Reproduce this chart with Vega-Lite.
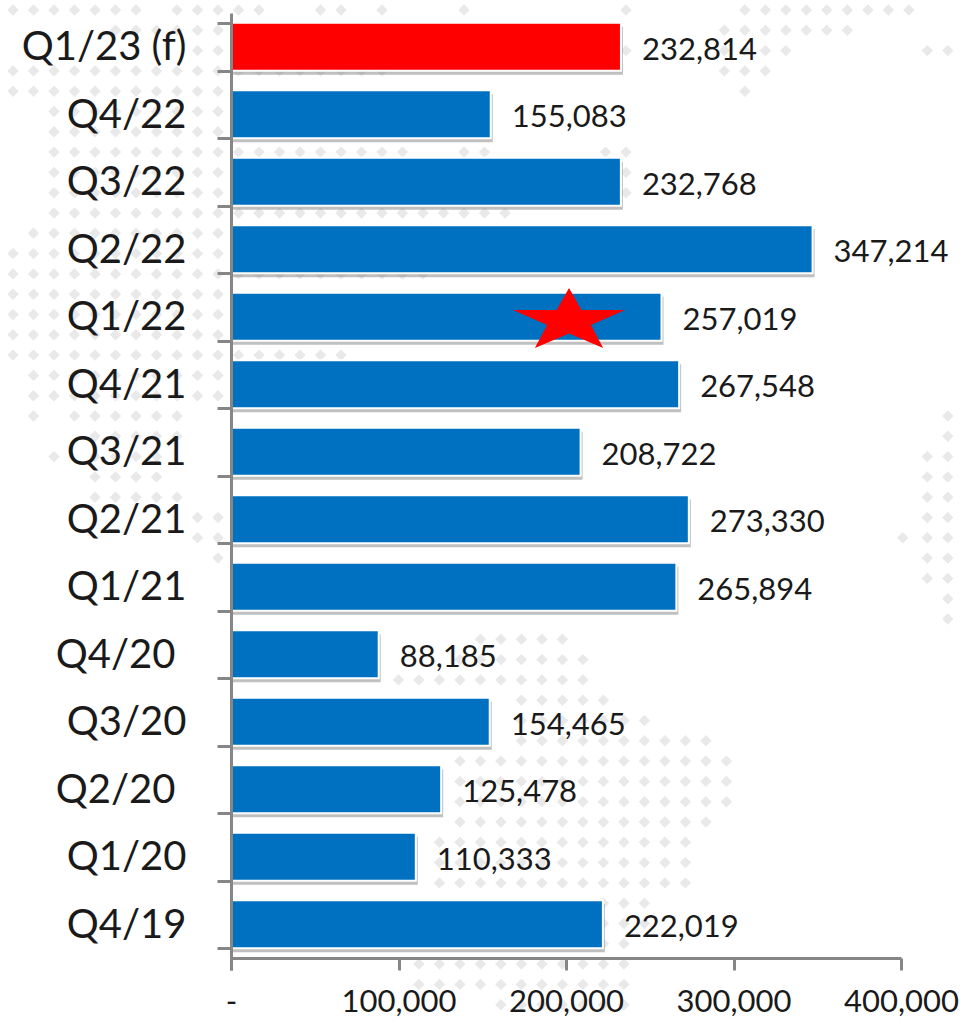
{
"$schema":"https://vega.github.io/schema/vega-lite/v6.json",
"width":670,"height":945,
"autosize":{"type":"none"},
"padding":{"left":231,"top":13,"right":62,"bottom":63},
"background":"white",
"config":{"view":{"stroke":null},"axis":{"tickBand":"extent"}},
"datasets":{"bars":[
{"period":"Q1/23 (f)","units":232814,"kind":"forecast"},
{"period":"Q4/22","units":155083,"kind":"actual"},
{"period":"Q3/22","units":232768,"kind":"actual"},
{"period":"Q2/22","units":347214,"kind":"actual"},
{"period":"Q1/22","units":257019,"kind":"actual"},
{"period":"Q4/21","units":267548,"kind":"actual"},
{"period":"Q3/21","units":208722,"kind":"actual"},
{"period":"Q2/21","units":273330,"kind":"actual"},
{"period":"Q1/21","units":265894,"kind":"actual"},
{"period":"Q4/20","units":88185,"kind":"actual"},
{"period":"Q3/20","units":154465,"kind":"actual"},
{"period":"Q2/20","units":125478,"kind":"actual"},
{"period":"Q1/20","units":110333,"kind":"actual"},
{"period":"Q4/19","units":222019,"kind":"actual"}
],"star":[{"period":"Q1/22","units":201800}],
"dots":[
{"c":0,"r":0},{"c":1,"r":0},{"c":2,"r":0},{"c":3,"r":0},{"c":4,"r":0},{"c":5,"r":0},{"c":6,"r":0},{"c":8,"r":0},{"c":9,"r":0},{"c":10,"r":0},{"c":11,"r":0},{"c":12,"r":0},{"c":15,"r":0},{"c":16,"r":0},{"c":18,"r":0},{"c":22,"r":0},
{"c":5,"r":1},{"c":6,"r":1},{"c":7,"r":1},{"c":8,"r":1},{"c":9,"r":1},{"c":10,"r":1},
{"c":9,"r":2},{"c":10,"r":2},
{"c":0,"r":3},{"c":1,"r":3},{"c":2,"r":3},{"c":3,"r":3},{"c":4,"r":3},{"c":5,"r":3},{"c":6,"r":3},{"c":7,"r":3},{"c":8,"r":3},{"c":9,"r":3},{"c":10,"r":3},
{"c":0,"r":4},{"c":1,"r":4},{"c":2,"r":4},{"c":3,"r":4},{"c":4,"r":4},{"c":5,"r":4},{"c":6,"r":4},{"c":7,"r":4},{"c":8,"r":4},{"c":9,"r":4},{"c":10,"r":4},
{"c":2,"r":5},{"c":3,"r":5},{"c":4,"r":5},{"c":5,"r":5},{"c":6,"r":5},{"c":7,"r":5},{"c":8,"r":5},{"c":9,"r":5},{"c":10,"r":5},
{"c":2,"r":6},{"c":3,"r":6},{"c":4,"r":6},{"c":5,"r":6},{"c":6,"r":6},{"c":7,"r":6},{"c":8,"r":6},{"c":9,"r":6},{"c":10,"r":6},
{"c":2,"r":7},{"c":3,"r":7},{"c":4,"r":7},{"c":5,"r":7},{"c":6,"r":7},{"c":7,"r":7},{"c":8,"r":7},{"c":9,"r":7},{"c":10,"r":7},
{"c":2,"r":8},{"c":3,"r":8},{"c":4,"r":8},{"c":5,"r":8},{"c":6,"r":8},{"c":7,"r":8},{"c":8,"r":8},{"c":9,"r":8},{"c":10,"r":8},
{"c":2,"r":9},{"c":3,"r":9},{"c":4,"r":9},{"c":5,"r":9},{"c":6,"r":9},{"c":7,"r":9},{"c":8,"r":9},{"c":9,"r":9},{"c":10,"r":9},
{"c":2,"r":10},{"c":3,"r":10},{"c":4,"r":10},{"c":5,"r":10},{"c":6,"r":10},{"c":7,"r":10},{"c":8,"r":10},{"c":9,"r":10},{"c":10,"r":10},
{"c":1,"r":11},{"c":2,"r":11},{"c":3,"r":11},{"c":4,"r":11},{"c":5,"r":11},{"c":6,"r":11},{"c":7,"r":11},{"c":8,"r":11},{"c":9,"r":11},{"c":10,"r":11},
{"c":0,"r":12},{"c":1,"r":12},{"c":2,"r":12},{"c":3,"r":12},{"c":4,"r":12},{"c":5,"r":12},{"c":6,"r":12},{"c":7,"r":12},{"c":8,"r":12},{"c":9,"r":12},{"c":10,"r":12},
{"c":0,"r":13},{"c":1,"r":13},{"c":2,"r":13},{"c":3,"r":13},{"c":4,"r":13},{"c":5,"r":13},{"c":6,"r":13},{"c":7,"r":13},{"c":8,"r":13},{"c":9,"r":13},{"c":10,"r":13},
{"c":0,"r":14},{"c":1,"r":14},{"c":2,"r":14},{"c":3,"r":14},{"c":4,"r":14},{"c":5,"r":14},{"c":6,"r":14},{"c":7,"r":14},{"c":8,"r":14},{"c":9,"r":14},{"c":10,"r":14},
{"c":0,"r":15},{"c":1,"r":15},{"c":2,"r":15},{"c":3,"r":15},{"c":4,"r":15},{"c":5,"r":15},{"c":6,"r":15},{"c":7,"r":15},{"c":8,"r":15},{"c":9,"r":15},{"c":10,"r":15},
{"c":0,"r":16},{"c":1,"r":16},{"c":2,"r":16},{"c":3,"r":16},{"c":4,"r":16},{"c":5,"r":16},{"c":6,"r":16},{"c":7,"r":16},{"c":8,"r":16},{"c":9,"r":16},{"c":10,"r":16},
{"c":0,"r":17},{"c":1,"r":17},{"c":2,"r":17},{"c":3,"r":17},{"c":4,"r":17},{"c":5,"r":17},{"c":6,"r":17},{"c":7,"r":17},{"c":8,"r":17},{"c":9,"r":17},{"c":10,"r":17},
{"c":1,"r":18},{"c":2,"r":18},{"c":3,"r":18},{"c":4,"r":18},{"c":5,"r":18},{"c":6,"r":18},{"c":7,"r":18},{"c":8,"r":18},{"c":9,"r":18},{"c":10,"r":18},
{"c":1,"r":19},{"c":2,"r":19},{"c":3,"r":19},{"c":4,"r":19},{"c":5,"r":19},{"c":6,"r":19},{"c":7,"r":19},{"c":8,"r":19},{"c":9,"r":19},{"c":10,"r":19},
{"c":1,"r":20},{"c":3,"r":20},{"c":4,"r":20},{"c":5,"r":20},{"c":6,"r":20},{"c":7,"r":20},{"c":8,"r":20},
{"c":4,"r":21},{"c":5,"r":21},{"c":6,"r":21},{"c":7,"r":21},{"c":8,"r":21},
{"c":2,"r":22},{"c":4,"r":22},{"c":5,"r":22},{"c":6,"r":22},{"c":7,"r":22},
{"c":4,"r":23},{"c":5,"r":23},{"c":6,"r":23},{"c":7,"r":23},
{"c":4,"r":24},{"c":5,"r":24},{"c":6,"r":24},{"c":7,"r":24},{"c":8,"r":24},
{"c":9,"r":25},{"c":10,"r":25},{"c":9,"r":26},{"c":10,"r":26},{"c":10,"r":27},
{"c":11,"r":3},{"c":12,"r":3},{"c":13,"r":3},{"c":14,"r":3},{"c":15,"r":3},{"c":16,"r":3},{"c":17,"r":3},{"c":18,"r":3},
{"c":11,"r":7},{"c":12,"r":7},{"c":13,"r":7},{"c":14,"r":7},{"c":15,"r":7},{"c":16,"r":7},{"c":17,"r":7},{"c":18,"r":7},{"c":19,"r":7},{"c":22,"r":7},{"c":23,"r":7},
{"c":11,"r":10},{"c":12,"r":10},{"c":13,"r":10},{"c":14,"r":10},{"c":15,"r":10},{"c":16,"r":10},{"c":17,"r":10},{"c":18,"r":10},{"c":19,"r":10},{"c":20,"r":10},{"c":21,"r":10},{"c":22,"r":10},{"c":23,"r":10},{"c":24,"r":10},
{"c":11,"r":13},{"c":12,"r":13},{"c":13,"r":13},{"c":14,"r":13},{"c":15,"r":13},{"c":16,"r":13},{"c":17,"r":13},{"c":18,"r":13},{"c":19,"r":13},{"c":20,"r":13},
{"c":11,"r":17},{"c":12,"r":17},{"c":13,"r":17},{"c":14,"r":17},{"c":15,"r":17},{"c":16,"r":17},
{"c":29.9,"r":0},{"c":29.9,"r":2},{"c":28.9,"r":7},{"c":29.9,"r":7},{"c":29.9,"r":8},{"c":29.9,"r":9},
{"c":35.7,"r":0},{"c":36.7,"r":0},{"c":37.7,"r":0},{"c":38.7,"r":0},{"c":39.7,"r":0},{"c":40.7,"r":0},{"c":41.7,"r":0},{"c":42.7,"r":0},{"c":43.7,"r":0},
{"c":34.7,"r":1},{"c":35.7,"r":1},{"c":36.7,"r":1},{"c":37.7,"r":1},{"c":38.7,"r":1},{"c":39.7,"r":1},{"c":40.7,"r":1},
{"c":34.7,"r":2},{"c":35.7,"r":2},{"c":36.7,"r":2},{"c":37.7,"r":2},{"c":44.6,"r":2},{"c":45.6,"r":2},
{"c":34.7,"r":3},{"c":35.7,"r":3},{"c":36.7,"r":3},{"c":35.7,"r":4},
{"c":45.6,"r":20},{"c":45.6,"r":21},{"c":44.6,"r":22},{"c":45.6,"r":22},{"c":44.6,"r":23},{"c":45.6,"r":23},{"c":44.6,"r":24},{"c":45.6,"r":24},{"c":44.6,"r":25},{"c":45.6,"r":25},{"c":43.4,"r":26},{"c":44.6,"r":26},{"c":45.6,"r":26},{"c":44.6,"r":27},{"c":45.6,"r":27},{"c":44.6,"r":28},{"c":45.6,"r":28},{"c":45.6,"r":29},{"c":45.6,"r":30},
{"c":22.8,"r":31},{"c":23.8,"r":31},{"c":24.8,"r":31},{"c":25.8,"r":31},{"c":26.8,"r":31},
{"c":21.8,"r":32},{"c":22.8,"r":32},{"c":23.8,"r":32},{"c":24.8,"r":32},{"c":25.8,"r":32},{"c":26.8,"r":32},{"c":27.8,"r":32},
{"c":18.8,"r":33},{"c":19.8,"r":33},{"c":20.8,"r":33},{"c":21.8,"r":33},{"c":22.8,"r":33},{"c":23.8,"r":33},{"c":24.8,"r":33},{"c":25.8,"r":33},{"c":26.8,"r":33},{"c":27.8,"r":33},
{"c":24.8,"r":34},{"c":25.8,"r":34},{"c":26.8,"r":34},{"c":27.8,"r":34},{"c":28.8,"r":34},
{"c":24.8,"r":35},{"c":25.8,"r":35},{"c":26.8,"r":35},{"c":27.8,"r":35},{"c":28.8,"r":35},{"c":29.8,"r":35},{"c":30.8,"r":35},
{"c":24.8,"r":36},{"c":25.8,"r":36},{"c":26.8,"r":36},{"c":27.8,"r":36},{"c":28.8,"r":36},{"c":29.8,"r":36},{"c":30.8,"r":36},{"c":31.8,"r":36},{"c":32.8,"r":36},{"c":33.8,"r":36},
{"c":21.8,"r":37},{"c":22.8,"r":37},{"c":23.8,"r":37},{"c":24.8,"r":37},{"c":25.8,"r":37},{"c":26.8,"r":37},{"c":27.8,"r":37},{"c":28.8,"r":37},{"c":29.8,"r":37},{"c":30.8,"r":37},{"c":31.8,"r":37},{"c":32.8,"r":37},{"c":33.8,"r":37},{"c":34.8,"r":37},
{"c":21.8,"r":38},{"c":22.8,"r":38},{"c":23.8,"r":38},{"c":24.8,"r":38},{"c":25.8,"r":38},{"c":26.8,"r":38},{"c":27.8,"r":38},{"c":28.8,"r":38},{"c":29.8,"r":38},{"c":30.8,"r":38},{"c":31.8,"r":38},{"c":32.8,"r":38},{"c":33.8,"r":38},{"c":34.8,"r":38},
{"c":21.8,"r":39},{"c":22.8,"r":39},{"c":23.8,"r":39},{"c":24.8,"r":39},{"c":25.8,"r":39},{"c":26.8,"r":39},{"c":27.8,"r":39},{"c":28.8,"r":39},{"c":29.8,"r":39},{"c":30.8,"r":39},{"c":31.8,"r":39},{"c":32.8,"r":39},{"c":33.8,"r":39},{"c":34.8,"r":39},
{"c":21.8,"r":40},{"c":22.8,"r":40},{"c":23.8,"r":40},{"c":24.8,"r":40},{"c":25.8,"r":40},{"c":26.8,"r":40},{"c":27.8,"r":40},{"c":28.8,"r":40},{"c":29.8,"r":40},{"c":30.8,"r":40},{"c":31.8,"r":40},{"c":32.8,"r":40},{"c":33.8,"r":40},
{"c":20.8,"r":41},{"c":21.8,"r":41},{"c":22.8,"r":41},{"c":23.8,"r":41},{"c":24.8,"r":41},{"c":25.8,"r":41},{"c":26.8,"r":41},{"c":27.8,"r":41},{"c":28.8,"r":41},{"c":29.8,"r":41},{"c":30.8,"r":41},{"c":31.8,"r":41},{"c":32.8,"r":41},
{"c":20.8,"r":42},{"c":21.8,"r":42},{"c":22.8,"r":42},{"c":23.8,"r":42},{"c":24.8,"r":42},{"c":25.8,"r":42},{"c":26.8,"r":42},{"c":27.8,"r":42},{"c":28.8,"r":42},{"c":29.8,"r":42},{"c":30.8,"r":42},{"c":31.8,"r":42},{"c":32.8,"r":42},
{"c":20.8,"r":43},{"c":21.8,"r":43},{"c":22.8,"r":43},{"c":23.8,"r":43},{"c":24.8,"r":43},{"c":25.8,"r":43},{"c":26.8,"r":43},{"c":27.8,"r":43},{"c":28.8,"r":43},{"c":29.8,"r":43},{"c":30.8,"r":43},{"c":31.8,"r":43},{"c":32.8,"r":43},
{"c":28.8,"r":44},{"c":29.8,"r":44},{"c":30.8,"r":44},{"c":28.8,"r":45},{"c":29.8,"r":45},{"c":30.8,"r":45},{"c":28.8,"r":46},{"c":29.8,"r":46},
{"c":19.8,"r":47},{"c":20.8,"r":47},{"c":21.8,"r":47},{"c":22.8,"r":47},{"c":23.8,"r":47},{"c":24.8,"r":47},{"c":25.8,"r":47},{"c":26.8,"r":47},{"c":27.8,"r":47},{"c":28.8,"r":47},{"c":29.8,"r":47},
{"c":19.8,"r":48},{"c":20.8,"r":48},{"c":21.8,"r":48},{"c":22.8,"r":48},{"c":23.8,"r":48},{"c":24.8,"r":48},{"c":25.8,"r":48},{"c":26.8,"r":48},{"c":27.8,"r":48},{"c":28.8,"r":48},{"c":29.8,"r":48},
{"c":23.8,"r":49},{"c":24.8,"r":49},{"c":25.8,"r":49},{"c":26.8,"r":49},{"c":27.8,"r":49},{"c":28.8,"r":49},{"c":29.8,"r":49}
]},
"resolve":{"scale":{"x":"independent","y":"independent"},"axis":{"x":"independent","y":"independent"}},
"layer":[
{"data":{"name":"dots"},
 "mark":{"type":"point","shape":"diamond","filled":true,"color":"#e9e9e9","opacity":1,"size":130,"clip":false},
 "encoding":{
  "x":{"field":"c","type":"quantitative","axis":null,"scale":{"domain":[10.634,43.317],"nice":false,"zero":false}},
  "y":{"field":"r","type":"quantitative","axis":null,"scale":{"domain":[0.148,46.7],"nice":false,"zero":false,"reverse":true}}
 }},
{"data":{"name":"bars"},
 "encoding":{
 "y":{"field":"period","type":"nominal","sort":null,"title":null,
 "scale":{"paddingInner":0.29,"paddingOuter":0.145},
 "axis":{"zindex":1,"domainColor":"#868686","domainWidth":3,"tickColor":"#868686","tickWidth":3,"tickSize":14,"labelFont":"Lato","labelFontSize":40,"labelColor":"#1a1a1a","labelPadding":{"condition":{"test":"datum.value==='Q4/20'||datum.value==='Q2/20'","value":42},"value":31},"labelOffset":1,"labelBaseline":"middle","grid":false}}
 },
 "layer":[
 {"mark":{"type":"bar","color":"#8c8c8c","opacity":0.55,"xOffset":2,"yOffset":4},
  "encoding":{"x":{"field":"units","type":"quantitative"}}},
 {"mark":{"type":"bar","stroke":"white","strokeWidth":2},
  "encoding":{"x":{"field":"units","type":"quantitative","title":null,
    "scale":{"domain":[0,400000]},
    "axis":{"zindex":1,"values":[0,100000,200000,300000,400000],"format":",.0f","labelExpr":"datum.value===0?'-':datum.label","labelOverlap":false,"labelBound":false,"domainColor":"#868686","domainWidth":3,"tickColor":"#868686","tickWidth":3,"tickSize":12,"labelFont":"Lato","labelFontSize":31,"labelColor":"#1a1a1a","labelPadding":17,"labelFlush":false,"grid":false}},
    "color":{"field":"kind","type":"nominal","scale":{"domain":["forecast","actual"],"range":["#FF0000","#0070C0"]},"legend":null}}},
 {"mark":{"type":"text","align":"left","baseline":"middle","dx":21,"dy":4,"font":"Lato","fontSize":31,"color":"#1a1a1a"},
  "encoding":{"x":{"field":"units","type":"quantitative"},"text":{"field":"units","type":"quantitative","format":","}}},
 {"data":{"name":"star"},
  "mark":{"type":"point","filled":true,"color":"#FF0000","opacity":1,"size":12544,"shape":"M0,-0.513L0.22,-0.12L1,-0.12L0.39,0.146L0.61,0.558L0,0.3L-0.61,0.558L-0.39,0.146L-1,-0.12L-0.22,-0.12Z"},
  "encoding":{"x":{"field":"units","type":"quantitative"}}}
 ]}
]
}
